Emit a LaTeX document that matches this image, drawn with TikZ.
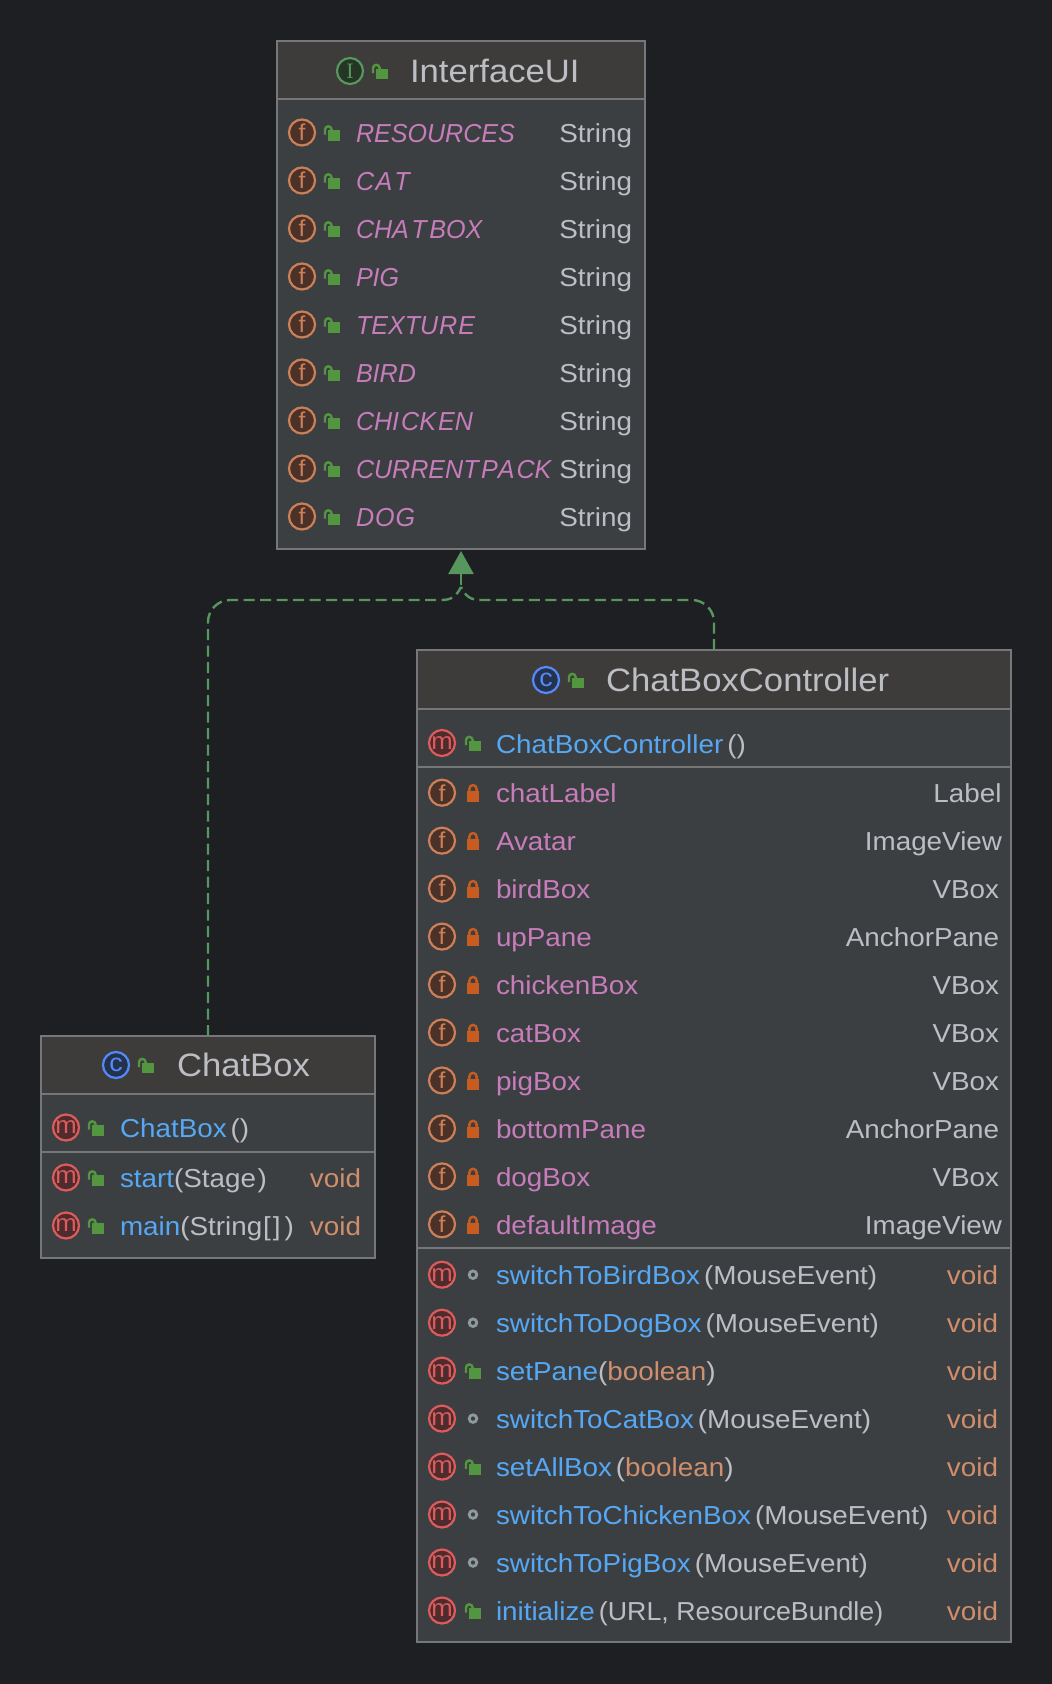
\documentclass[tikz,border=0pt]{standalone}
\usepackage{fontspec}
\setmainfont[FakeStretch=1.07]{Liberation Sans}
\newfontfamily\fielditalic[FakeStretch=0.965,Kerning=Off]{Liberation Sans}
\newfontfamily\narrowrow[FakeStretch=1.03]{Liberation Sans}
\newfontfamily\iconslab{Liberation Serif}
\usetikzlibrary{arrows.meta}
\definecolor{bgc}{HTML}{1E1F22}
\definecolor{panelc}{HTML}{3C3F41}
\definecolor{headc}{HTML}{3D3C3B}
\definecolor{borderc}{HTML}{76777A}
\definecolor{sepc}{HTML}{767676}
\definecolor{fgc}{HTML}{BCBEC4}
\definecolor{purplec}{HTML}{C77DBB}
\definecolor{bluec}{HTML}{56A8F5}
\definecolor{typec}{HTML}{CF8E6D}
\definecolor{greenc}{HTML}{57965C}
\definecolor{lockgc}{HTML}{52973F}
\definecolor{lockpc}{HTML}{C75B20}
\definecolor{ringc}{HTML}{8F9AA0}
\definecolor{forange}{HTML}{CC7F58}
\definecolor{ffill}{HTML}{4B3228}
\definecolor{mred}{HTML}{DB5C5C}
\definecolor{mfill}{HTML}{4F2B2E}
\definecolor{cblue}{HTML}{548AF7}
\definecolor{cfill}{HTML}{25324D}
\definecolor{ifill}{HTML}{253627}
\newcommand\rowfont{\fontsize{26}{30}\selectfont}
\newcommand\titlefont{\fontsize{32.4}{36}\selectfont}
\newcommand\mth[1]{\textcolor{bluec}{#1}}
\newcommand\gap{\hspace{4pt}}
\newcommand\fg[1]{\textcolor{fgc}{#1}}
\newcommand\typ[1]{\textcolor{typec}{#1}}
\newcommand\Row[6]{%
  \node[#3] (#1i) at (\ix,#2) {};
  \pic at (\lx,#2) {#4};
  \node[rowtext,anchor=base west] (#1l) at (\tx,#2+10) {#5};
  \node[rowtext,anchor=base east] (#1r) at (\rx,#2+10) {#6};}
\newcommand\CtorRow[5]{%
  \node[#3] (#1i) at (\ix,#2) {};
  \pic at (\lx,#2) {#4};
  \node[rowtext,anchor=base west] (#1l) at (\tx,#2+10) {#5};}
\newcommand\Title[7]{%
  \node[#2] (#1i) at (#3,#4) {};
  \pic at (#5,#4) {lockopen};
  \node[titletext,anchor=base west] (#1t) at (#6,#4+11.5) {#7};}
\tikzset{
  panel/.style={draw=none,fill=panelc,rectangle,inner sep=0pt,outer sep=0pt},
  rowtext/.style={inner sep=0pt,outer sep=0pt,font=\rowfont,text=fgc},
  titletext/.style={inner sep=0pt,outer sep=0pt,font=\titlefont,text=fgc},
  frameline/.style={draw=borderc,line width=1.6pt},
  sepline/.style={draw=sepc,line width=2pt},
  badge/.style={circle,inner sep=0pt,minimum size=26pt,line width=2.2pt},
  iconf/.style={badge,draw=forange,fill=ffill,label={[inner sep=0pt,text=forange,font=\fontsize{23}{24}\selectfont]center:f}},
  iconm/.style={badge,draw=mred,fill=mfill,label={[inner sep=0pt,text=mred,font=\fontsize{24}{24}\selectfont]center:m}},
  iconc/.style={badge,draw=cblue,fill=cfill,label={[inner sep=0pt,text=cblue,font=\fontsize{25}{24}\selectfont]center:c}},
  iconi/.style={badge,draw=greenc,fill=ifill,label={[inner sep=0pt,text=greenc,font=\iconslab\fontsize{22}{24}\selectfont]center:I}},
  dep/.style={draw=greenc,line width=2.4pt,dash pattern=on 11pt off 5.5pt},
  stem/.style={draw=greenc,line width=2.4pt,-{Triangle[length=23pt,width=25pt,fill=greenc]}},
  lockopen/.pic={
    \fill[lockgc] (-4,-2.3) rectangle (8,8.3);
    \draw[lockgc,line width=2.4pt] (-7,2.2) -- (-7,-2.9) arc[start angle=180,end angle=0,x radius=3.3,y radius=-3.3] -- (-0.4,-2);},
  lockshut/.pic={
    \fill[lockpc] (-6,-1.5) rectangle (6,9.5);
    \draw[lockpc,line width=2.4pt] (-3.6,-1) -- (-3.6,-4) arc[start angle=180,end angle=0,x radius=3.6,y radius=-3.6] -- (3.6,-1);},
  lockpkg/.pic={
    \draw[ringc,line width=2.8pt] (0,0) circle[radius=3.8];}
}
\begin{document}
\begin{tikzpicture}[x=1pt,y=-1pt]
\fill[bgc] (0,0) rectangle (1052,1684);
\useasboundingbox (0,0) rectangle (1052,1684);
% --- InterfaceUI ---
\node[panel,minimum width=368pt,minimum height=508pt] (iface) at (461,295) {};
\coordinate (ifaceh) at (645,99);
\fill[headc] (iface.north west) rectangle (ifaceh);
\draw[sepline] (iface.west |- ifaceh) -- (ifaceh);
\draw[frameline] (iface.north west) rectangle (iface.south east);
\Title{ifacet}{iconi}{350}{71}{380}{410}{InterfaceUI}
\def\ix{302}\def\lx{332}\def\tx{356}\def\rx{632}
\foreach \nm [count=\k from 0] in {RESOURCES,C\kern1.5pt A\kern2pt T,CHA\kern2.5pt T\kern2.5pt BOX,PIG,TEXTU\kern1pt R\kern1pt E,BIRD,CHI\kern2pt CK\kern2pt EN,CURRENT\kern2.5pt PA\kern2pt CK,D\kern1pt O\kern1pt G}{
  \pgfmathsetmacro\yy{132.5+48*\k}
  \Row{if\k}{\yy}{iconf}{lockopen}{\fielditalic\itshape\textcolor{purplec}{\nm}}{String}
}
% --- ChatBoxController ---
\node[panel,minimum width=594pt,minimum height=992pt] (ctrl) at (714,1146) {};
\coordinate (ctrlh) at (1011,708.5);
\fill[headc] (ctrl.north west) rectangle (ctrlh);
\draw[sepline] (ctrl.west |- ctrlh) -- (ctrlh);
\coordinate (ctrls) at (1011,766.5);
\draw[sepline] (ctrl.west |- ctrls) -- (ctrls);
\coordinate (ctrlm) at (1011,1248);
\draw[sepline] (ctrl.west |- ctrlm) -- (ctrlm);
\draw[frameline] (ctrl.north west) rectangle (ctrl.south east);
\Title{ct}{iconc}{546}{680}{576}{606}{ChatBoxController}
\def\ix{442}\def\lx{473}\def\tx{496}\def\rx{999}
\CtorRow{c0}{743}{iconm}{lockopen}{\mth{ChatBoxController}\gap\fg{()}}
\foreach \nm/\ty [count=\k from 0] in {chatLabel/Label\kern-2.5pt,Avatar/ImageView\kern-3pt,birdBox/VBox,upPane/AnchorPane,chickenBox/VBox,catBox/VBox,pigBox/VBox,bottomPane/AnchorPane,dogBox/VBox,defaultImage/ImageView\kern-3pt}{
  \pgfmathsetmacro\yy{792.7+47.96*\k}
  \Row{cf\k}{\yy}{iconf}{lockshut}{\textcolor{purplec}{\nm}}{\ty}
}
\def\rx{998}
\Row{cm0}{1274.7}{iconm}{lockpkg}{\mth{switchToBirdBox}\gap\fg{(MouseEvent)}}{\typ{void}}
\Row{cm1}{1322.7}{iconm}{lockpkg}{\mth{switchToDogBox}\gap\fg{(MouseEvent)}}{\typ{void}}
\Row{cm2}{1370.6}{iconm}{lockopen}{\mth{setPane}\fg{(}\typ{boolean}\fg{)}}{\typ{void}}
\Row{cm3}{1418.6}{iconm}{lockpkg}{\mth{switchToCatBox}\gap\fg{(MouseEvent)}}{\typ{void}}
\Row{cm4}{1466.6}{iconm}{lockopen}{\mth{setAllBox}\gap\fg{(}\typ{boolean}\fg{)}}{\typ{void}}
\Row{cm5}{1514.5}{iconm}{lockpkg}{\mth{switchToChickenBox}\gap\fg{(MouseEvent)}}{\typ{void}}
\Row{cm6}{1562.5}{iconm}{lockpkg}{\mth{switchToPigBox}\gap\fg{(MouseEvent)}}{\typ{void}}
\Row{cm7}{1610.5}{iconm}{lockopen}{\mth{initialize}\gap\fg{\narrowrow(URL, ResourceBundle)}}{\typ{void}}
% --- ChatBox ---
\node[panel,minimum width=334pt,minimum height=222pt] (cbox) at (208,1147) {};
\coordinate (cboxh) at (375,1093.5);
\fill[headc] (cbox.north west) rectangle (cboxh);
\draw[sepline] (cbox.west |- cboxh) -- (cboxh);
\coordinate (cboxs) at (375,1152);
\draw[sepline] (cbox.west |- cboxs) -- (cboxs);
\draw[frameline] (cbox.north west) rectangle (cbox.south east);
\Title{cb}{iconc}{116}{1065}{146}{177}{ChatBox}
\def\ix{66}\def\lx{96}\def\tx{120}\def\rx{361}
\CtorRow{b0}{1127.5}{iconm}{lockopen}{\mth{ChatBox}\gap\fg{()}}
\Row{b1}{1177.5}{iconm}{lockopen}{\mth{start}\fg{(Stage\hspace{1.5pt})}}{\typ{void}}
\Row{b2}{1225.5}{iconm}{lockopen}{\mth{main}\fg{(String\hspace{1pt}[\hspace{2pt}]\hspace{4pt})}}{\typ{void}}
% --- connectors ---
\coordinate (merge) at (461,587);
\coordinate (leftup) at (208,622);
\coordinate (leftc1) at (208,610);
\coordinate (leftc2) at (218,600);
\coordinate (lefth) at (230,600);
\coordinate (leftm) at (441,600);
\coordinate (rightup) at (714,622);
\coordinate (rightc1) at (714,610);
\coordinate (rightc2) at (704,600);
\coordinate (righth) at (692,600);
\coordinate (rightm) at (481,600);
\coordinate (stemfoot) at (461,585);
\draw[dep] (cbox.north) -- (leftup) .. controls (leftc1) and (leftc2) .. (lefth) -- (leftm) .. controls (451,600) and (456,597) .. (merge);
\draw[dep] (ctrl.north) -- (rightup) .. controls (rightc1) and (rightc2) .. (righth) -- (rightm) .. controls (471,600) and (466,597) .. (merge);
\draw[stem] (stemfoot) -- ([yshift=-2pt]iface.south);
\end{tikzpicture}
\end{document}
